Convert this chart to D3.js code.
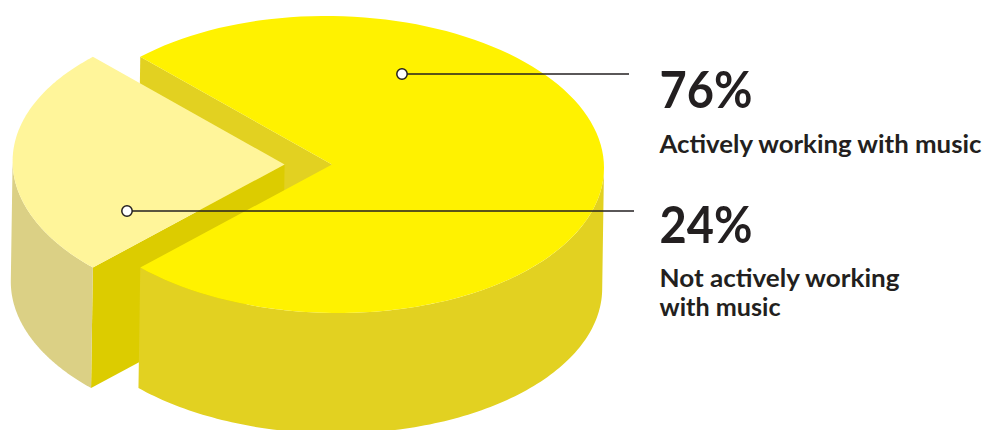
<!DOCTYPE html>
<html><head><meta charset="utf-8">
<script src="https://cdn.jsdelivr.net/npm/d3@7/dist/d3.min.js"></script>
<style>html,body{margin:0;padding:0;background:#fff}svg{display:block}text{font-family:Lato,sans-serif;font-weight:700;fill:#231f20}</style>
</head><body><svg id="c" width="986" height="430"></svg>
<script>
const categories = ["Actively working with music", "Not actively working with music"];
const shareLabels = ["76%", "24%"];
const captionLines = [["Actively working with music"], ["Not actively working", "with music"]];
// Angular shares of the two drawn wedges.
const drawnShares = [74.9, 25.1];

const W = 986, H = 430, tau = Math.PI * 2;
const cx = 332, cy = 164.5, rx = 272, ry = 148.5, depth = 120.5, shear = -1.8, explode = 47.4, tilt = 0.012;
const col = {top: "#fff200", side: "#e2d121", smallTop: "#fff59a", smallSide: "#dbd085", smallWall: "#dccc00", ink: "#231f20"};

const svg = d3.select("#c");
const smallFrac = drawnShares[1] / d3.sum(drawnShares);
const start = 1.5 * Math.PI + smallFrac * Math.PI - tau;
const pie = d3.pie().sort(null).startAngle(start).endAngle(start + tau);
const [mainA, smallA] = pie(drawnShares);

const px = d3.scaleLinear().domain([-1, 1]).range([-rx, rx]);
const py = d3.scaleLinear().domain([-1, 1]).range([-ry, ry]);
const P = (a, r, ox, down) => {
  const dx = px(r * Math.sin(a));
  return [cx + ox + dx + (down ? shear : 0), cy + py(-r * Math.cos(a)) + tilt * dx + (down ? depth : 0)];
};
const line = d3.line();
const rimArc = (a0, a1, ox, down) => d3.range(0, 121).map(i => P(a0 + (a1 - a0) * i / 120, 1, ox, down));
const side = (a0, a1, ox) => line(rimArc(a0, a1, ox, false).concat(rimArc(a1, a0, ox, true))) + "Z";
const wall = (a, ox) => line([P(a, 1, ox, false), P(a, 0, ox, false), P(a, 0, ox, true), P(a, 1, ox, true)]) + "Z";
const face = (a0, a1, ox) => line([P(a0, 0, ox, false)].concat(rimArc(a0, a1, ox, false))) + "Z";

// painter's order
svg.append("path").attr("d", wall(mainA.startAngle, 0)).attr("fill", col.side);
svg.append("path").attr("d", wall(smallA.startAngle, -explode)).attr("fill", col.smallWall);
svg.append("path").attr("d", side(smallA.startAngle, 1.5 * Math.PI, -explode)).attr("fill", col.smallSide);
svg.append("path").attr("d", face(smallA.startAngle, smallA.endAngle, -explode)).attr("fill", col.smallTop);
svg.append("path").attr("d", side(Math.PI / 2, mainA.endAngle, 0)).attr("fill", col.side);
svg.append("path").attr("d", face(mainA.startAngle, mainA.endAngle, 0)).attr("fill", col.top);

// leader lines
const leaders = [{x0: 402, x1: 629, y: 74}, {x0: 127, x1: 634, y: 211}];
leaders.forEach(l => {
  svg.append("line").attr("x1", l.x0).attr("x2", l.x1).attr("y1", l.y).attr("y2", l.y).attr("stroke", col.ink).attr("stroke-width", 1.3);
  svg.append("circle").attr("cx", l.x0).attr("cy", l.y).attr("r", 5.2).attr("fill", "#fff").attr("stroke", col.ink).attr("stroke-width", 1.5);
});

// labels
const textX = 659.5, bigY = [108, 243], capY = [[153], [287, 316]];
const capW = [[322], [240, 121]];
shareLabels.forEach((s, i) => {
  svg.append("text").attr("x", textX).attr("y", bigY[i]).attr("font-size", 51)
    .attr("textLength", 93).attr("lengthAdjust", "spacingAndGlyphs").text(s);
  captionLines[i].forEach((t, j) => {
    svg.append("text").attr("x", textX).attr("y", capY[i][j]).attr("font-size", 25.5)
      .attr("textLength", capW[i][j]).attr("lengthAdjust", "spacingAndGlyphs").text(t);
  });
});
</script></body></html>
